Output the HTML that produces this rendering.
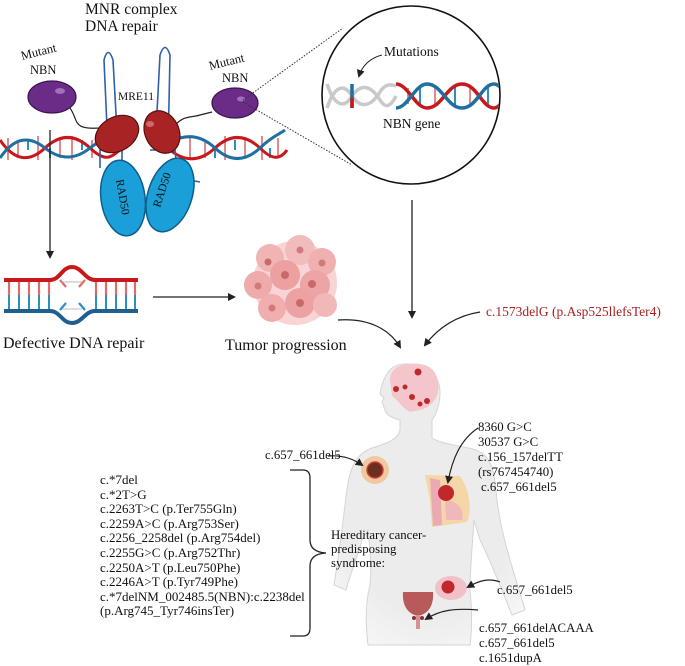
<!DOCTYPE html>
<html><head><meta charset="utf-8"><style>
body{margin:0;background:#fff}
svg{display:block}
text{font-family:"Liberation Serif",serif;fill:#111}
</style></head><body>
<svg width="685" height="666" viewBox="0 0 685 666" xmlns="http://www.w3.org/2000/svg">
<defs>
<marker id="ah" markerWidth="8" markerHeight="8" refX="6" refY="4" orient="auto" markerUnits="userSpaceOnUse"><path d="M0,0 L8,4 L0,8 Z" fill="#222"/></marker>
<clipPath id="cc"><circle cx="411" cy="95" r="88"/></clipPath>
<radialGradient id="bodyg" cx="0.5" cy="0.4" r="0.7"><stop offset="0.7" stop-color="#ececec"/><stop offset="1" stop-color="#f7f7f7"/></radialGradient>
</defs>

<text x="85" y="14" font-size="15.5">MNR complex</text>
<text x="85" y="31" font-size="15.5">DNA repair</text>

<g stroke-width="1.6">
<g stroke="#e08a8a" stroke-width="2">
<line x1="8" y1="138" x2="8" y2="160"/><line x1="18" y1="140" x2="18" y2="158"/><line x1="38" y1="136" x2="38" y2="160"/><line x1="60" y1="140" x2="60" y2="158"/><line x1="72" y1="136" x2="72" y2="160"/><line x1="92" y1="140" x2="92" y2="158"/><line x1="190" y1="136" x2="190" y2="160"/><line x1="205" y1="140" x2="205" y2="158"/><line x1="225" y1="136" x2="225" y2="160"/><line x1="245" y1="138" x2="245" y2="158"/><line x1="262" y1="136" x2="262" y2="160"/><line x1="278" y1="138" x2="278" y2="156"/>
</g>
<g stroke="#2a90c0" stroke-width="2">
<line x1="28" y1="140" x2="28" y2="150"/><line x1="50" y1="148" x2="50" y2="158"/><line x1="82" y1="140" x2="82" y2="150"/><line x1="215" y1="148" x2="215" y2="158"/><line x1="235" y1="140" x2="235" y2="150"/><line x1="270" y1="148" x2="270" y2="158"/>
</g>
<path d="M0,140 C15,162 30,162 45,148 C60,134 75,134 90,148 C105,162 110,158 120,150" fill="none" stroke="#c8181c" stroke-width="3"/>
<path d="M0,158 C15,136 30,136 45,148 C60,160 75,160 90,148 C105,136 115,138 125,146" fill="none" stroke="#1f6fa0" stroke-width="3"/>
<path d="M170,150 C185,162 200,162 215,148 C230,134 245,134 260,148 C272,160 280,160 287,150" fill="none" stroke="#c8181c" stroke-width="3"/>
<path d="M170,142 C185,134 200,134 215,148 C230,162 245,162 260,148 C272,136 280,134 285,130" fill="none" stroke="#1f6fa0" stroke-width="3"/>
</g>

<path d="M100,168 L100,150 L108,150 L104,60 Q108,45 113,60 L118,150 L122,150 L122,185 L140,185" fill="none" stroke="#2e5fb0" stroke-width="1.6"/>
<path d="M150,150 L155,150 L160,55 Q165,40 170,55 L168,150 L175,150 L178,178 L200,182" fill="none" stroke="#2e5fb0" stroke-width="1.6"/>

<path d="M68,105 C80,120 70,130 100,128" fill="none" stroke="#222" stroke-width="1.2"/>
<path d="M175,125 C185,115 190,118 200,115 L212,112" fill="none" stroke="#222" stroke-width="1.2"/>

<ellipse cx="52" cy="97" rx="24" ry="16" fill="#6a2c86" stroke="#3a1450" stroke-width="1.2"/>
<ellipse cx="60" cy="91" rx="5" ry="3" fill="#a070b8"/>
<text x="22" y="60" font-size="12.5" transform="rotate(-14 22 60)">Mutant</text>
<text x="30" y="74" font-size="12.5">NBN</text>
<ellipse cx="235" cy="103" rx="23" ry="15" fill="#6a2c86" stroke="#3a1450" stroke-width="1.2"/>
<ellipse cx="241" cy="99" rx="4" ry="2.5" fill="#a070b8"/>
<text x="210" y="70" font-size="12.5" transform="rotate(-14 210 70)">Mutant</text>
<text x="222" y="82" font-size="12.5">NBN</text>

<ellipse cx="123" cy="198" rx="22" ry="38" transform="rotate(-8 123 198)" fill="#1a9fd8" stroke="#0f5d8a" stroke-width="1.5"/>
<text x="0" y="0" font-size="11.5" transform="translate(116,180) rotate(80)">RAD50</text>
<ellipse cx="170" cy="195" rx="22" ry="38" transform="rotate(18 170 195)" fill="#1a9fd8" stroke="#0f5d8a" stroke-width="1.5"/>
<text x="0" y="0" font-size="11.5" transform="translate(160,208) rotate(-72)">RAD50</text>

<ellipse cx="117" cy="134" rx="23" ry="17" transform="rotate(-30 117 134)" fill="#a82424" stroke="#5a0e0e" stroke-width="1.2"/>
<ellipse cx="162" cy="132" rx="17" ry="22" transform="rotate(-25 162 132)" fill="#a82424" stroke="#5a0e0e" stroke-width="1.2"/>
<ellipse cx="150" cy="124" rx="4" ry="3" fill="#d06a6a"/>
<text x="118" y="100" font-size="11.5">MRE11</text>

<line x1="243" y1="100" x2="343" y2="28" stroke="#333" stroke-dasharray="1.5,1.5" stroke-width="1"/>
<line x1="243" y1="102" x2="352" y2="165" stroke="#333" stroke-dasharray="1.5,1.5" stroke-width="1"/>

<circle cx="411" cy="95" r="89" fill="#fff" stroke="#111" stroke-width="1.6"/>
<g clip-path="url(#cc)">
<path d="M327,84 C335,108 345,108 352,96 C360,84 370,84 380,100 C385,108 390,108 396,96" fill="none" stroke="#c9c9c9" stroke-width="3.5"/>
<path d="M327,108 C335,84 345,84 352,96 C360,108 370,108 380,92 C385,84 390,84 396,86" fill="none" stroke="#c9c9c9" stroke-width="3.5"/>
<line x1="352" y1="84" x2="352" y2="108" stroke="#1f6fa0" stroke-width="3.5"/>
<line x1="352" y1="98" x2="352" y2="108" stroke="#c8181c" stroke-width="3.5"/>
<g stroke-width="2"><line x1="408" y1="88" x2="408" y2="104" stroke="#e08a8a"/><line x1="420" y1="86" x2="420" y2="106" stroke="#2a90c0"/><line x1="435" y1="86" x2="435" y2="106" stroke="#e08a8a"/><line x1="455" y1="86" x2="455" y2="106" stroke="#2a90c0"/><line x1="470" y1="86" x2="470" y2="106" stroke="#e08a8a"/><line x1="488" y1="86" x2="488" y2="106" stroke="#2a90c0"/></g>
<path d="M396,84 C408,84 415,108 427,108 C442,108 447,84 462,84 C477,84 482,108 494,108 C502,108 507,90 512,84" fill="none" stroke="#c8181c" stroke-width="3.5"/>
<path d="M396,108 C408,108 415,84 427,84 C442,84 447,108 462,108 C477,108 482,84 494,84 C502,84 507,100 512,108" fill="none" stroke="#1f6fa0" stroke-width="3.5"/>
</g>
<text x="384" y="56" font-size="13.5">Mutations</text>
<path d="M382,55 C370,58 362,66 359,76" fill="none" stroke="#222" stroke-width="1" marker-end="url(#ah)"/>
<text x="383" y="128" font-size="13.5">NBN gene</text>

<line x1="50" y1="130" x2="50" y2="257" stroke="#222" stroke-width="1.3" marker-end="url(#ah)"/>
<line x1="412" y1="200" x2="412" y2="317" stroke="#222" stroke-width="1.3" marker-end="url(#ah)"/>

<g stroke-width="2">
<line x1="9" y1="280" x2="9" y2="310" stroke="#2a90c0"/>
<line x1="19" y1="280" x2="19" y2="310" stroke="#2a90c0"/><line x1="29" y1="280" x2="29" y2="310" stroke="#2a90c0"/><line x1="39" y1="280" x2="39" y2="310" stroke="#2a90c0"/><line x1="49" y1="280" x2="49" y2="310" stroke="#2a90c0"/>
<line x1="96" y1="280" x2="96" y2="310" stroke="#2a90c0"/><line x1="106" y1="280" x2="106" y2="310" stroke="#2a90c0"/><line x1="116" y1="280" x2="116" y2="310" stroke="#2a90c0"/><line x1="126" y1="280" x2="126" y2="310" stroke="#2a90c0"/><line x1="135" y1="280" x2="135" y2="310" stroke="#2a90c0"/>
</g>
<g stroke="#e06a6a" stroke-width="2.2">
<line x1="9" y1="280" x2="9" y2="295"/><line x1="19" y1="280" x2="19" y2="295"/><line x1="29" y1="280" x2="29" y2="295"/><line x1="39" y1="280" x2="39" y2="295"/><line x1="49" y1="280" x2="49" y2="295"/>
<line x1="96" y1="280" x2="96" y2="295"/><line x1="106" y1="280" x2="106" y2="295"/><line x1="116" y1="280" x2="116" y2="295"/><line x1="126" y1="280" x2="126" y2="295"/><line x1="135" y1="280" x2="135" y2="295"/>
<line x1="60" y1="280" x2="66" y2="287"/><line x1="85" y1="280" x2="79" y2="287"/>
</g>
<g stroke="#2a90c0" stroke-width="2.2"><line x1="60" y1="310" x2="66" y2="303"/><line x1="85" y1="310" x2="79" y2="303"/></g>
<line x1="62" y1="282" x2="82" y2="282" stroke="#bbb" stroke-width="1"/><line x1="62" y1="309" x2="82" y2="309" stroke="#bbb" stroke-width="1"/>
<path d="M4,280 L50,280 C60,280 62,267 72,267 C82,267 85,280 95,280 L138,280" fill="none" stroke="#c8181c" stroke-width="4"/>
<path d="M4,311 L50,311 C60,311 62,323 72,323 C82,323 85,311 95,311 L138,311" fill="none" stroke="#1f5f90" stroke-width="4"/>
<text x="3" y="348" font-size="16">Defective DNA repair</text>

<line x1="153" y1="297" x2="234" y2="297" stroke="#222" stroke-width="1.3" marker-end="url(#ah)"/>

<g>
<circle cx="295" cy="283" r="42" fill="#f8d4d4"/>
<circle cx="270" cy="258" r="14" fill="#f0b4b4"/><circle cx="300" cy="250" r="15" fill="#f3bcbc"/><circle cx="322" cy="262" r="14" fill="#f0b0b0"/>
<circle cx="258" cy="285" r="14" fill="#efaaaa"/><circle cx="285" cy="275" r="15" fill="#eca0a0"/><circle cx="315" cy="285" r="15" fill="#eda4a4"/>
<circle cx="272" cy="308" r="14" fill="#f0aeae"/><circle cx="300" cy="303" r="15" fill="#eca2a2"/><circle cx="325" cy="305" r="12" fill="#f2b8b8"/>
<circle cx="285" cy="275" r="4" fill="#c96a6a"/><circle cx="312" cy="284" r="4" fill="#c96a6a"/><circle cx="300" cy="303" r="4" fill="#c96a6a"/><circle cx="268" cy="262" r="3.5" fill="#c96a6a"/><circle cx="258" cy="286" r="3.5" fill="#d07a7a"/><circle cx="300" cy="250" r="3.5" fill="#d07a7a"/><circle cx="322" cy="263" r="3.5" fill="#d07a7a"/><circle cx="272" cy="308" r="3.5" fill="#d07a7a"/>
</g>
<text x="225" y="350" font-size="16">Tumor progression</text>

<path d="M338,320 C370,318 390,330 400,347" fill="none" stroke="#222" stroke-width="1.2" marker-end="url(#ah)"/>
<path d="M480,312 C455,316 438,328 425,345" fill="none" stroke="#222" stroke-width="1.2" marker-end="url(#ah)"/>
<text x="486" y="316" font-size="13.5" style="fill:#a82020">c.1573delG (p.Asp525llefsTer4)</text>

<path d="M398,365 C420,360 440,372 440,392 C440,405 436,415 432,420 L432,438 C445,446 470,446 480,452 C492,458 495,475 497,500 C502,540 515,575 525,610 L512,615 C500,585 490,560 480,540 L474,520 C472,550 470,570 470,590 C472,610 472,630 470,645 L368,645 C365,620 366,600 370,585 C372,565 370,550 368,530 L362,540 C358,555 350,575 346,590 L334,585 C338,560 342,530 345,505 C348,475 352,455 372,448 C385,444 398,440 400,430 L400,420 C392,418 386,415 385,410 L382,402 L384,398 L380,394 C382,380 388,368 398,365 Z" fill="url(#bodyg)" stroke="#d5d5d5" stroke-width="1"/>
<path d="M390,380 C390,366 405,362 420,364 C435,366 440,378 438,392 C436,402 428,408 420,410 L410,412 C402,408 398,400 392,396 Z" fill="#f4c6cc"/>
<circle cx="418" cy="372" r="3.5" fill="#c0282c"/><circle cx="396" cy="389" r="3" fill="#c0282c"/><circle cx="412" cy="397" r="3" fill="#c0282c"/><circle cx="420" cy="404" r="2.5" fill="#c0282c"/><circle cx="427" cy="401" r="3" fill="#c0282c"/><circle cx="405" cy="387" r="2.5" fill="#c0282c"/>
<circle cx="375" cy="470" r="14" fill="#f2c8a0"/><circle cx="375" cy="470" r="8" fill="#6a2f20" stroke="#c94030" stroke-width="1.5"/>
<path d="M425,475 L460,476 C470,490 472,510 467,522 L432,527 L430,500 Z" fill="#f4d6a8"/>
<path d="M430,478 L440,480 L442,525 L433,526 Z" fill="#eaaab4"/>
<path d="M445,500 C455,500 465,508 462,520 L446,520 Z" fill="#f0b8b8"/>
<circle cx="446" cy="493" r="8" fill="#c0282c"/>
<ellipse cx="451" cy="588" rx="16" ry="12" fill="#f2c0c8"/><circle cx="448" cy="587" r="6.5" fill="#c0282c"/>
<path d="M403,592 L433,592 C434,606 428,614 418,616 C408,614 402,606 403,592 Z" fill="#b85a5a"/>
<rect x="416" y="615" width="4" height="14" fill="#d99090"/>
<circle cx="414" cy="618" r="2" fill="#8a3030"/><circle cx="422" cy="618" r="2" fill="#8a3030"/>

<path d="M478,428 C460,440 452,460 448,482" fill="none" stroke="#222" stroke-width="1.2" marker-end="url(#ah)"/>
<path d="M328,456 C340,455 352,458 362,465" fill="none" stroke="#222" stroke-width="1.2" marker-end="url(#ah)"/>
<path d="M500,582 C490,578 480,580 468,587" fill="none" stroke="#222" stroke-width="1.2" marker-end="url(#ah)"/>
<path d="M478,610 C455,608 440,610 426,619" fill="none" stroke="#222" stroke-width="1.2" marker-end="url(#ah)"/>

<g font-size="12.8">
<text x="478" y="431">8360 G&gt;C</text>
<text x="478" y="446">30537 G&gt;C</text>
<text x="478" y="461">c.156_157delTT</text>
<text x="478" y="476">(rs767454740)</text>
<text x="481" y="491">c.657_661del5</text>
<text x="265" y="459">c.657_661del5</text>
<text x="497" y="594">c.657_661del5</text>
<text x="479" y="632">c.657_661delACAAA</text>
<text x="479" y="647">c.657_661del5</text>
<text x="479" y="662">c.1651dupA</text>
<text x="331" y="539">Hereditary cancer-</text>
<text x="331" y="553">predisposing</text>
<text x="331" y="567">syndrome:</text>
</g>

<g font-size="13">
<text x="100" y="484">c.*7del</text>
<text x="100" y="499">c.*2T&gt;G</text>
<text x="100" y="513">c.2263T&gt;C (p.Ter755Gln)</text>
<text x="100" y="528">c.2259A&gt;C (p.Arg753Ser)</text>
<text x="100" y="542">c.2256_2258del (p.Arg754del)</text>
<text x="100" y="557">c.2255G&gt;C (p.Arg752Thr)</text>
<text x="100" y="572">c.2250A&gt;T (p.Leu750Phe)</text>
<text x="100" y="586">c.2246A&gt;T (p.Tyr749Phe)</text>
<text x="100" y="601">c.*7delNM_002485.5(NBN):c.2238del</text>
<text x="100" y="615">(p.Arg745_Tyr746insTer)</text>
</g>
<path d="M290,470 L303,470 Q310,470 310,478 L310,540 Q310,552 326,553 Q310,554 310,566 L310,628 Q310,636 303,636 L290,636" fill="none" stroke="#222" stroke-width="1.3"/>
</svg>
</body></html>
